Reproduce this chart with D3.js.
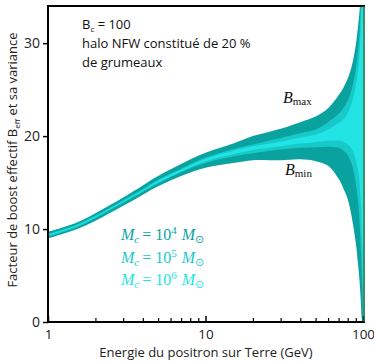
<!DOCTYPE html>
<html><head><meta charset="utf-8">
<script src="https://cdn.jsdelivr.net/npm/d3@7"></script>
<style>body{margin:0;background:#fff}</style>
</head><body>
<svg id="c" width="374" height="362"></svg>
<script>
// Energy (GeV)
const energies = [1, 1.5, 2, 3, 4, 5, 7, 10, 15, 20, 30, 40, 50, 60, 70, 75, 80, 85, 90, 93, 95, 97, 98, 99, 100];
// Mc = 1e4 (outer band)
const max4 = [9.7, 10.65, 11.7, 13.4, 14.7, 15.7, 17.0, 18.2, 19.2, 20.0, 20.8, 21.5, 22.1, 23.0, 24.4, 25.2, 26.2, 27.6, 29.8, 31.8, 33.4, 36.0, 38.0, 41.0, 45.0];
const min4 = [9.0, 9.95, 10.9, 12.5, 13.7, 14.6, 15.7, 16.6, 17.1, 17.4, 17.4, 17.5, 17.3, 16.8, 15.4, 14.4, 13.2, 11.2, 8.5, 6.2, 4.5, 2.0, 0.5, 0.1, 0.0];
// Mc = 1e5 (middle band)
const max5 = [9.5, 10.45, 11.45, 13.1, 14.3, 15.3, 16.5, 17.7, 18.6, 19.1, 19.8, 20.3, 20.7, 21.5, 22.4, 23.0, 23.8, 25.1, 27.2, 29.3, 31.2, 34.4, 37.0, 40.5, 44.0];
const min5 = [9.2, 10.15, 11.15, 12.8, 14.0, 14.9, 16.1, 17.1, 17.8, 18.15, 18.55, 18.75, 18.8, 18.85, 18.75, 18.45, 17.95, 16.95, 14.9, 12.9, 10.9, 7.6, 5.5, 3.0, 1.0];
// Mc = 1e6 (inner band)
const max6 = [9.4, 10.35, 11.35, 13.0, 14.2, 15.2, 16.4, 17.55, 18.4, 18.9, 19.4, 19.85, 20.15, 20.7, 21.4, 21.8, 22.5, 23.6, 25.4, 27.1, 28.8, 31.8, 34.3, 38.0, 42.0];
const min6 = [9.3, 10.25, 11.25, 12.9, 14.1, 15.0, 16.2, 17.3, 18.05, 18.5, 18.9, 19.2, 19.35, 19.5, 19.5, 19.4, 19.1, 18.6, 17.5, 16.3, 15.0, 12.5, 10.5, 8.0, 4.0];

const yTicks = [0, 10, 20, 30];
const xTicks = [1, 10, 100];
const xMinorTicks = [2, 3, 4, 5, 6, 7, 8, 9, 20, 30, 40, 50, 60, 70, 80, 90];
const annot = ["halo NFW constitué de 20 %", "de grumeaux"];
const massExp = [4, 5, 6];

const colors = ["#0aa29f", "#18c9c9", "#22e4e4"];

const svg = d3.select("#c");
const L = 48, R = 364, T = 6, B = 322;
const x = d3.scaleLog().domain([1, 100]).range([L, R - 1]);
const y = d3.scaleLinear().domain([0, 34]).range([B, T]);
const font = "'Open Sans', sans-serif";
const serif = "'Liberation Serif', 'Times New Roman', serif";

svg.append("defs").append("clipPath").attr("id", "clip")
  .append("rect").attr("x", L).attr("y", T).attr("width", R - L).attr("height", B - T);

const bands = [[max4, min4], [max5, min5], [max6, min6]];
const area = d3.area()
  .x((d) => x(d.e)).y0((d) => y(d.lo)).y1((d) => y(d.hi))
  .curve(d3.curveCatmullRom.alpha(0.5));
const g = svg.append("g").attr("clip-path", "url(#clip)");
bands.forEach(([hi, lo], i) => {
  const data = energies.map((e, k) => ({ e, hi: hi[k], lo: lo[k] }));
  g.append("path").datum(data).attr("d", area).attr("fill", colors[i]);
});

// Axes
const yAxis = d3.axisLeft(y).tickValues(yTicks).tickSize(5).tickPadding(3);
const ya = svg.append("g").attr("transform", `translate(${L},0)`).call(yAxis);
ya.select(".domain").remove();
ya.selectAll("line").attr("stroke", "#000").attr("stroke-width", 1.5);
ya.selectAll("text").attr("font-family", font).attr("font-size", 14).attr("fill", "#222");

const xAxis = d3.axisBottom(x).tickValues(xTicks).tickFormat(d3.format("d")).tickSize(-6).tickPadding(7);
const xa = svg.append("g").attr("transform", `translate(0,${B})`).call(xAxis);
xa.select(".domain").remove();
xa.selectAll("line").attr("stroke", "#000").attr("stroke-width", 1.5);
xa.selectAll("text").attr("font-family", font).attr("font-size", 13.5).attr("fill", "#222");
const xm = d3.axisBottom(x).tickValues(xMinorTicks).tickFormat("").tickSize(-4);
const xma = svg.append("g").attr("transform", `translate(0,${B})`).call(xm);
xma.select(".domain").remove();
xma.selectAll("line").attr("stroke", "#000").attr("stroke-width", 1.2);

// Frame
svg.append("line").attr("x1", L).attr("x2", L).attr("y1", T - 1).attr("y2", B + 1).attr("stroke", "#000").attr("stroke-width", 2);
svg.append("line").attr("x1", L - 1).attr("x2", R + 1).attr("y1", B).attr("y2", B).attr("stroke", "#000").attr("stroke-width", 2.2);
svg.append("line").attr("x1", L - 1).attr("x2", R + 1).attr("y1", T).attr("y2", T).attr("stroke", "#000").attr("stroke-width", 2);
svg.append("line").attr("x1", R).attr("x2", R).attr("y1", T).attr("y2", B).attr("stroke", "#063").attr("stroke-width", 1.5);

// Axis titles
svg.append("text").attr("x", (L + R) / 2).attr("y", 357).attr("text-anchor", "middle")
  .attr("font-family", font).attr("font-size", 13).attr("fill", "#222")
  .text("Energie du positron sur Terre (GeV)");
const yt = svg.append("text").attr("transform", "translate(17,160) rotate(-90)").attr("text-anchor", "middle")
  .attr("font-family", font).attr("font-size", 13).attr("fill", "#222");
yt.append("tspan").text("Facteur de boost effectif B");
yt.append("tspan").attr("font-size", 8).attr("dy", 3).text("eff");
yt.append("tspan").attr("dy", -3).text(" et sa variance");

// Annotation
const a0 = svg.append("text").attr("x", 82).attr("y", 29).attr("font-family", font).attr("font-size", 13).attr("fill", "#111");
a0.append("tspan").text("B");
a0.append("tspan").attr("font-size", 8).attr("dy", 3).text("c");
a0.append("tspan").attr("dy", -3).text(" = 100");
annot.forEach((t, i) => {
  svg.append("text").attr("x", 82).attr("y", 48 + i * 19).attr("font-family", font).attr("font-size", 13).attr("fill", "#111").text(t);
});

// Bmax / Bmin
function blabel(xp, yp, sub) {
  const t = svg.append("text").attr("x", xp).attr("y", yp).attr("font-family", serif).attr("fill", "#111");
  t.append("tspan").attr("font-style", "italic").attr("font-size", 16).text("B");
  t.append("tspan").attr("font-size", 11).attr("dy", 2).text(sub);
}
blabel(283, 103, "max");
blabel(285, 175, "min");

// Mc labels
massExp.forEach((p, i) => {
  const t = svg.append("text").attr("x", 121).attr("y", 240 + i * 22.5).attr("font-family", serif).attr("font-size", 16).attr("fill", colors[i]);
  t.append("tspan").attr("font-style", "italic").text("M");
  t.append("tspan").attr("font-style", "italic").attr("font-size", 11).attr("dy", 3).text("c");
  t.append("tspan").attr("dy", -3).attr("dx", 3).text("=");
  t.append("tspan").attr("dx", 4).text("10");
  t.append("tspan").attr("font-size", 11).attr("dy", -6).text(p);
  t.append("tspan").attr("dy", 6).attr("dx", 5).attr("font-style", "italic").text("M");
  t.append("tspan").attr("font-size", 11).attr("dy", 3).attr("font-family", "'DejaVu Sans', sans-serif").text("⊙");
});
</script>
</body></html>
